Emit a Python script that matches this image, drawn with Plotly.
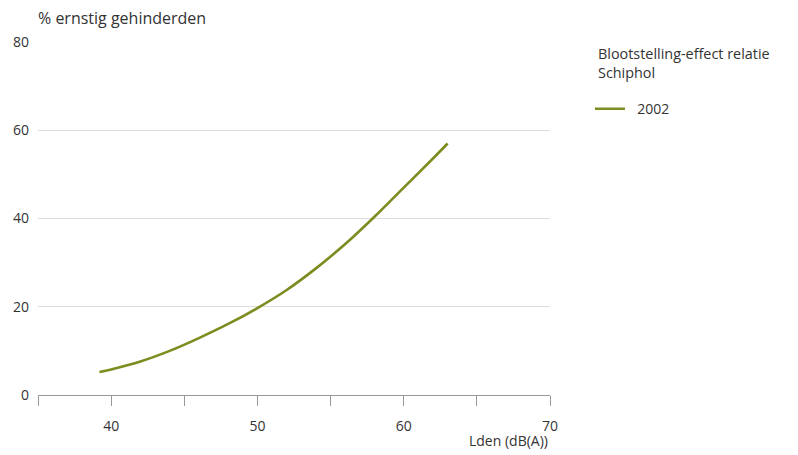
import plotly.graph_objects as go

lden = [39.2, 40, 42, 44, 46, 48, 50, 52, 54, 56, 58, 60, 62, 63]
pct = [5.2, 5.8, 7.6, 10.0, 12.9, 16.1, 19.7, 23.8, 28.7, 34.2, 40.4, 47.0, 53.6, 57.0]
series_name = "2002"
x_tickvals = [35, 40, 45, 50, 55, 60, 65, 70]
x_ticktext = ["", "40", "", "50", "", "60", "", "70"]
y_tickvals = [0, 20, 40, 60, 80]

FONT = "Open Sans"
TXT = "#333333"

fig = go.Figure()
fig.add_trace(go.Scatter(
    x=lden, y=pct, mode="lines", name="\u00a0\u00a0" + series_name,
    line=dict(color="#7d8b1f", width=2.6, shape="spline", smoothing=1.0),
))

fig.update_layout(
    width=798, height=455,
    margin=dict(l=30, r=256, t=34, b=68, autoexpand=False),
    paper_bgcolor="white", plot_bgcolor="white",
    font=dict(family=FONT, size=14, color=TXT),
    showlegend=True,
    legend=dict(
        x=1.078, y=0.855, xanchor="left", yanchor="top",
        font=dict(size=14, color=TXT),
        itemwidth=30, tracegroupgap=0,
    ),
    xaxis=dict(
        range=[35, 70], tickvals=x_tickvals, ticktext=x_ticktext,
        ticks="outside", ticklen=10, tickcolor="#999999", tickwidth=1,
        showline=True, linecolor="#999999", linewidth=1,
        showgrid=False, zeroline=False, ticklabelstandoff=8,
        tickfont=dict(size=14, color=TXT), automargin=False,
    ),
    yaxis=dict(
        range=[0, 80], tickvals=y_tickvals,
        showgrid=True, gridcolor="#dddddd", gridwidth=1,
        zeroline=False, showline=False, ticks="",
        ticklabelstandoff=8, automargin=False,
        tickfont=dict(size=14, color=TXT),
    ),
    annotations=[
        dict(text="% ernstig gehinderden", xref="paper", yref="paper",
             x=-0.004, y=1.0, xanchor="left", yanchor="bottom", yshift=11,
             showarrow=False, font=dict(size=16, color=TXT)),
        dict(text="Lden (dB(A))", xref="paper", yref="paper",
             x=1.0, y=0.0, xanchor="right", yanchor="top", yshift=-34,
             showarrow=False, font=dict(size=14, color=TXT)),
        dict(text="Blootstelling-effect relatie<br>Schiphol", xref="paper", yref="paper",
             x=1.09, y=1.0, xanchor="left", yanchor="top", align="left",
             showarrow=False, font=dict(size=14.4, color=TXT)),
    ],
)

fig.write_html("out.html")
